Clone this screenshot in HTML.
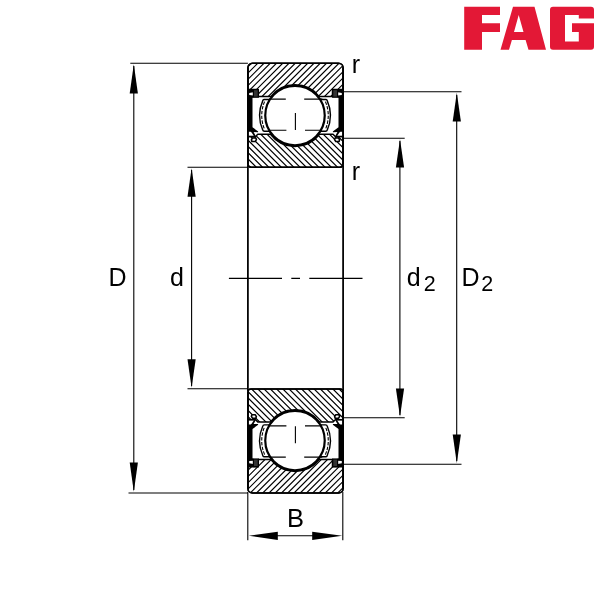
<!DOCTYPE html>
<html><head><meta charset="utf-8"><title>FAG bearing</title>
<style>
html,body{margin:0;padding:0;background:#fff;}
svg{display:block;will-change:transform;}
text{font-family:"Liberation Sans",Arial,Helvetica,sans-serif;fill:#000;}
</style></head><body>
<svg width="600" height="600" viewBox="0 0 600 600">
<rect width="600" height="600" fill="#fff"/>
<defs>
<clipPath id="co"><path d="M258.3 96.6 L270.76 96.6 A30.8 30.8 0 0 1 319.24 96.6 L332.5 96.6 L332.5 89.4 L343.1 89.4 L343.1 67.8 A4.5 4.5 0 0 0 338.6 63.3 L252.4 63.3 A4.5 4.5 0 0 0 247.9 67.8 L247.9 89.4 L258.3 89.4 Z"/></clipPath>
<clipPath id="ci"><path d="M257.8 134.2 L270.45 134.2 A30.8 30.8 0 0 0 319.55 134.2 L333 134.2 L335.3 136.5 L343.1 136.5 L343.1 164.10000000000002 A3.2 3.2 0 0 1 339.90000000000003 167.3 L251.1 167.3 A3.2 3.2 0 0 1 247.9 164.10000000000002 L247.9 136.5 L255.5 136.5 Z"/></clipPath>
<clipPath id="cob"><path d="M258.3 96.6 L270.76 96.6 A30.8 30.8 0 0 1 319.24 96.6 L332.5 96.6 L332.5 89.4 L343.1 89.4 L343.1 67.8 A4.5 4.5 0 0 0 338.6 63.3 L252.4 63.3 A4.5 4.5 0 0 0 247.9 67.8 L247.9 89.4 L258.3 89.4 Z" transform="translate(0,556.2) scale(1,-1)"/></clipPath>
<clipPath id="cib"><path d="M257.8 134.2 L270.45 134.2 A30.8 30.8 0 0 0 319.55 134.2 L333 134.2 L335.3 136.5 L343.1 136.5 L343.1 164.10000000000002 A3.2 3.2 0 0 1 339.90000000000003 167.3 L251.1 167.3 A3.2 3.2 0 0 1 247.9 164.10000000000002 L247.9 136.5 L255.5 136.5 Z" transform="translate(0,556.2) scale(1,-1)"/></clipPath>
</defs>
<!-- logo -->
<g fill="#e31836">
<path d="M464.2 6.8 H500 V15 H482 V23.2 H500 V32 H482 V49.8 H464.2 Z"/>
<path fill-rule="evenodd" d="M500.5 49.8 L513 6.8 H534.5 L546 49.8 H528.5 L525.6 40 H511.9 L509 49.8 Z M518.7 15 L514 32 H523.5 Z"/>
<path fill-rule="evenodd" d="M553 6.8 H591 A3 3 0 0 1 594 9.8 V18.5 H578.8 V15 H565 V41.5 H578.8 V32 H572 V23.2 H594 V46.8 A3 3 0 0 1 591 49.8 H553 A3 3 0 0 1 550 46.8 V9.8 A3 3 0 0 1 553 6.8 Z"/>
</g>
<!-- hatching -->
<g stroke="#000" stroke-width="1.2" fill="none">
<path clip-path="url(#co)" d="M208.50 100 L248.50 60 M214.75 100 L254.75 60 M221.00 100 L261.00 60 M227.25 100 L267.25 60 M233.50 100 L273.50 60 M239.75 100 L279.75 60 M246.00 100 L286.00 60 M252.25 100 L292.25 60 M258.50 100 L298.50 60 M264.75 100 L304.75 60 M271.00 100 L311.00 60 M277.25 100 L317.25 60 M283.50 100 L323.50 60 M289.75 100 L329.75 60 M296.00 100 L336.00 60 M302.25 100 L342.25 60 M308.50 100 L348.50 60 M314.75 100 L354.75 60 M321.00 100 L361.00 60 M327.25 100 L367.25 60 M333.50 100 L373.50 60 M339.75 100 L379.75 60"/>
<path clip-path="url(#ci)" d="M212.80 130 L252.80 170 M219.05 130 L259.05 170 M225.30 130 L265.30 170 M231.55 130 L271.55 170 M237.80 130 L277.80 170 M244.05 130 L284.05 170 M250.30 130 L290.30 170 M256.55 130 L296.55 170 M262.80 130 L302.80 170 M269.05 130 L309.05 170 M275.30 130 L315.30 170 M281.55 130 L321.55 170 M287.80 130 L327.80 170 M294.05 130 L334.05 170 M300.30 130 L340.30 170 M306.55 130 L346.55 170 M312.80 130 L352.80 170 M319.05 130 L359.05 170 M325.30 130 L365.30 170 M331.55 130 L371.55 170 M337.80 130 L377.80 170"/>
<path clip-path="url(#cib)" d="M211.15 386 L251.15 426 M217.40 386 L257.40 426 M223.65 386 L263.65 426 M229.90 386 L269.90 426 M236.15 386 L276.15 426 M242.40 386 L282.40 426 M248.65 386 L288.65 426 M254.90 386 L294.90 426 M261.15 386 L301.15 426 M267.40 386 L307.40 426 M273.65 386 L313.65 426 M279.90 386 L319.90 426 M286.15 386 L326.15 426 M292.40 386 L332.40 426 M298.65 386 L338.65 426 M304.90 386 L344.90 426 M311.15 386 L351.15 426 M317.40 386 L357.40 426 M323.65 386 L363.65 426 M329.90 386 L369.90 426 M336.15 386 L376.15 426 M342.40 386 L382.40 426"/>
<path clip-path="url(#cob)" d="M209.75 496 L249.75 456 M216.00 496 L256.00 456 M222.25 496 L262.25 456 M228.50 496 L268.50 456 M234.75 496 L274.75 456 M241.00 496 L281.00 456 M247.25 496 L287.25 456 M253.50 496 L293.50 456 M259.75 496 L299.75 456 M266.00 496 L306.00 456 M272.25 496 L312.25 456 M278.50 496 L318.50 456 M284.75 496 L324.75 456 M291.00 496 L331.00 456 M297.25 496 L337.25 456 M303.50 496 L343.50 456 M309.75 496 L349.75 456 M316.00 496 L356.00 456 M322.25 496 L362.25 456 M328.50 496 L368.50 456 M334.75 496 L374.75 456 M341.00 496 L381.00 456"/>
</g>
<g id="geo">
<path d="M258.3 96.6 L270.76 96.6 A30.8 30.8 0 0 1 319.24 96.6 L332.5 96.6 L332.5 89.4 L343.1 89.4 L343.1 67.8 A4.5 4.5 0 0 0 338.6 63.3 L252.4 63.3 A4.5 4.5 0 0 0 247.9 67.8 L247.9 89.4 L258.3 89.4 Z" fill="none" stroke="#000" stroke-width="1.5" stroke-linejoin="round"/>
<path d="M257.8 134.2 L270.45 134.2 A30.8 30.8 0 0 0 319.55 134.2 L333 134.2 L335.3 136.5 L343.1 136.5 L343.1 164.10000000000002 A3.2 3.2 0 0 1 339.90000000000003 167.3 L251.1 167.3 A3.2 3.2 0 0 1 247.9 164.10000000000002 L247.9 136.5 L255.5 136.5 Z" fill="none" stroke="#000" stroke-width="1.5" stroke-linejoin="round"/>
<!-- cage crescents -->
<path d="M321 99.5 L326 99.5 Q327 99.6 327.3 100.9 A36 36 0 0 1 327.3 129.9 Q327 131.2 325.6 131.3 L321 131.3" fill="#fff" stroke="#000" stroke-width="1.4"/>
<path d="M269 99.5 L264 99.5 Q263 99.6 262.7 100.9 A36 36 0 0 0 262.7 129.9 Q263 131.2 264.4 131.3 L269 131.3" fill="#fff" stroke="#000" stroke-width="1.4"/>
<path d="M325.4 101.6 A35 35 0 0 1 325.4 129.4" fill="none" stroke="#000" stroke-width="1.1" stroke-dasharray="3.4 1.4"/>
<path d="M264.6 101.6 A35 35 0 0 0 264.6 129.4" fill="none" stroke="#000" stroke-width="1.1" stroke-dasharray="3.4 1.4"/>
<!-- ball -->
<circle cx="295.0" cy="115.6" r="29.75" fill="#fff" stroke="#000" stroke-width="2.2"/>
<path d="M269.3 99.1 H285.8 M304.2 99.1 H322.3 M269.5 130.3 H286.4 M305 130.3 H322 M295.4 113 V129.9" stroke="#000" stroke-width="1.1" fill="none"/>
<!-- seals -->
<g id="seal">
<rect x="253.4" y="89.6" width="4.9" height="7.6" fill="#333" stroke="#000" stroke-width="1.2"/>
<path d="M247.2 90.2 L253.3 89.6 L253.3 92.2 L249.2 92.9 L249.2 95.1 L253.3 95.4 L253.3 97.6 L252.5 98 L252.5 127.3 L258.2 131.4 L258 132.2 L253.6 132.1 L255.6 135.7 L254.2 136.5 L251.6 132.4 L250.6 131.8 L247.2 131.8 Z" fill="#000"/>
<path d="M248.4 136.6 H255.5" stroke="#000" stroke-width="1.3"/>
<path d="M252.4 138 L255.8 137.9 L256.4 139.6 L255.2 141.5 L251.9 141.5 L251.4 139.8 Z" fill="#fff" stroke="#000" stroke-width="1.6" stroke-linejoin="round"/>
</g>
<use href="#seal" transform="translate(591,0) scale(-1,1)"/>
<path d="M247.9 67.8 A4.5 4.5 0 0 1 252.4 63.3 H338.6 A4.5 4.5 0 0 1 343.1 67.8 V164.10000000000002 A3.2 3.2 0 0 1 339.90000000000003 167.3 H251.1 A3.2 3.2 0 0 1 247.9 164.10000000000002 Z" fill="none" stroke="#000" stroke-width="1.5"/>
<path d="M247.9 67.8 V164.10000000000002 M343.1 67.8 V164.10000000000002" fill="none" stroke="#000" stroke-width="1.75"/>
</g>
<use href="#geo" transform="translate(0,556.2) scale(1,-1)"/>
<!-- bore lines -->
<path d="M247.9 165.3 V390.90000000000003 M343.1 165.3 V390.90000000000003" stroke="#000" stroke-width="1.75" fill="none"/>
<!-- thin lines -->
<g stroke="#000" stroke-width="1.1" fill="none">
<path d="M130.3 63.3 H247.9 M128.5 493 H247.9"/>
<path d="M187.5 167.3 H247.9 M187.5 388.8 H247.9"/>
<path d="M133.8 66 V490 M191.6 170 V386"/>
<path d="M343.1 91.8 H461.5 M343.1 464.2 H461.5"/>
<path d="M343.1 138.3 H404.7 M343.1 417.7 H404.7"/>
<path d="M456.7 95 V461 M399.9 141 V415"/>
<path d="M247.8 492 V540.2 M342.8 492 V540.2 M270 535.8 H320"/>
<path d="M228.9 278.35 H282 M291.3 278.35 H300 M309.3 278.35 H362.5"/>
</g>
<g fill="#000">
<path d="M133.8 64.3 L129.70000000000002 93.5 L137.9 93.5 Z"/>
<path d="M133.8 491.7 L129.70000000000002 462.5 L137.9 462.5 Z"/>
<path d="M191.6 168.3 L187.5 196.7 L195.7 196.7 Z"/>
<path d="M191.6 387.7 L187.5 359.3 L195.7 359.3 Z"/>
<path d="M456.8 92.8 L452.7 121.5 L460.90000000000003 121.5 Z"/>
<path d="M456.8 463.2 L452.7 434.5 L460.90000000000003 434.5 Z"/>
<path d="M400 139.3 L395.9 167.5 L404.1 167.5 Z"/>
<path d="M400 416.7 L395.9 388.5 L404.1 388.5 Z"/>
<path d="M248.8 535.8 L277.8 531.6999999999999 L277.8 539.9 Z"/>
<path d="M342.2 535.8 L312.2 531.6999999999999 L312.2 539.9 Z"/>
</g>
<text x="108.5" y="286" font-size="25">D</text>
<text x="169.9" y="286" font-size="25">d</text>
<text x="406.8" y="286" font-size="25">d</text>
<text x="423.7" y="291" font-size="21.5">2</text>
<text x="461.6" y="286" font-size="25">D</text>
<text x="481.2" y="291" font-size="21.5">2</text>
<text x="351.8" y="72.9" font-size="25">r</text>
<text x="351.8" y="179.6" font-size="25">r</text>
<text x="287.1" y="527.2" font-size="25.5">B</text>
</svg>
</body></html>
